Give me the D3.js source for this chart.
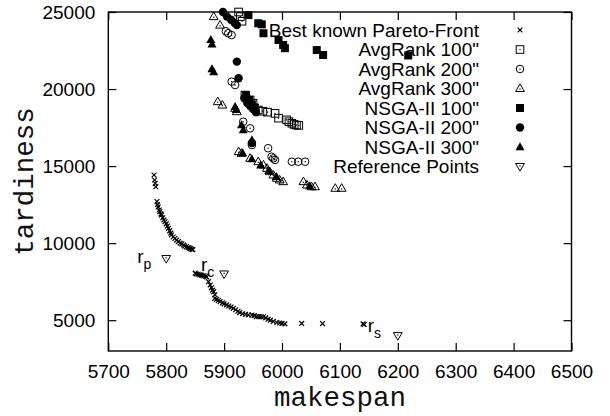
<!DOCTYPE html>
<html>
<head>
<meta charset="utf-8">
<script src="https://cdn.jsdelivr.net/npm/d3@7"></script>
<style>
  html, body { margin: 0; padding: 0; background: #fff; }
  svg { display: block; }
</style>
</head>
<body>
<svg id="chart" width="610" height="416"></svg>
<script>
// ---------------- DATA ----------------
const xTicks = [5700, 5800, 5900, 6000, 6100, 6200, 6300, 6400, 6500];
const yTicks = [5000, 10000, 15000, 20000, 25000];
const xLabel = "makespan";
const yLabel = "tardiness";

const seriesNames = [
  "Best known Pareto-Front",
  "AvgRank 100\"",
  "AvgRank 200\"",
  "AvgRank 300\"",
  "NSGA-II 100\"",
  "NSGA-II 200\"",
  "NSGA-II 300\"",
  "Reference Points"
];
const seriesMarkers = ["cross", "square", "circle", "triangle", "squareFilled", "circleFilled", "triangleFilled", "triangleDown"];

const paretoFront = [
  [5779,14420],[5780,14100],[5781,13880],[5782,13660],[5784,12700],[5785,12500],[5786,12350],[5788,12150],
  [5789,12040],[5791,11900],[5792,11820],[5794,11650],[5796,11500],[5798,11390],[5800,11250],[5802,11100],
  [5804,10960],[5806,10800],[5808,10650],[5809,10530],[5812,10400],[5815,10300],[5818,10200],[5821,10100],
  [5824,10000],[5827,9950],[5830,9880],[5832,9810],[5835,9760],[5838,9720],[5840,9680],[5842,9640],
  [5844,9600],[5846,9580],
  [5850,8050],[5852,8000],[5855,7980],[5858,7950],[5860,7930],[5862,7900],[5865,7880],[5868,7850],
  [5870,7800],[5873,7500],[5876,7280],[5878,7100],[5880,6950],[5882,6850],[5884,6650],[5884,6420],
  [5887,6350],[5890,6280],[5893,6200],[5897,6120],[5900,6060],[5904,5990],[5908,5920],[5912,5850],
  [5916,5770],[5920,5680],[5924,5580],[5927,5490],[5932,5420],[5937,5380],[5942,5340],[5948,5330],
  [5952,5300],[5956,5230],[5960,5230],[5964,5220],[5968,5220],[5972,5150],[5976,5060],[5980,5000],
  [5985,4920],[5991,4850],[5996,4820],[6000,4790],[6005,4760],[6034,4790],[6070,4780],[6140,4760],[6142,4720]
];

const avgRank100 = [
  [5925,25000],[5928,24700],[5931,24400],[5936,19610],[5945,19290],[5950,19080],[5959,18640],[5967,18560],
  [5975,18500],[5988,18420],[5994,18110],[6008,18000],[6012,17880],[6017,17780],[6021,17700],[6025,17660],[6029,17640]
];
const avgRank200 = [
  [5903,23750],[5907,23620],[5913,23500],[5913,20480],[5919,20260],[5933,17880],[5945,17450],[5948,16370],
  [5976,16160],[5982,15610],[5985,15500],[5988,15400],[6017,15285],[6028,15285],[6040,15285]
];
const avgRank300 = [
  [5882,24700],[5893,24150],[5889,19180],[5897,18960],[5919,18750],[5922,18530],[5925,15935],[5930,15830],
  [5945,15505],[5959,15285],[5968,15070],[5974,14855],[5979,14640],[5985,14420],[5991,14210],[5996,14100],
  [6002,13990],[6037,13990],[6043,13770],[6051,13660],[6057,13660],[6092,13560],[6103,13560]
];
const nsga100 = [
  [5942,24800],[5959,24270],[5965,24200],[5968,23620],[5994,23180],[6002,22860],[6005,22650],[6060,22530],
  [6071,22210],[6218,22180],[5938,19600],[5943,19300],[5948,19000],[5953,18800]
];
const nsga200 = [
  [5898,25000],[5905,24700],[5912,24500],[5918,24300],[5922,24150],[5922,21780],[5925,20700],[5935,19400],
  [5940,19100],[5945,18900],[5950,18700],[5955,18500],[5948,16500]
];
const nsga300 = [
  [5877,23200],[5879,22900],[5879,21300],[5882,21100],[5919,18850],[5921,18650],[5930,17670],[5933,17340],
  [5948,16690],[5932,15850],[5948,15450],[5963,15050],[5977,14700],[5990,14300],[6048,13700]
];
const referencePoints = [[5800,9000],[5900,8000],[6200,4000]];
const referenceSubscripts = ["p", "c", "s"];
const referenceLabelAnchors = [[5750,8700],[5860,8170],[6148,4230]];

// ---------------- LAYOUT ----------------
(function () {
const W = 610, H = 416;
const mLeft = 108.3, mRight = 571.5, mTop = 12, mBottom = 351;
const svg = d3.select("#chart");
svg.append("rect").attr("width", W).attr("height", H).attr("fill", "#fff");

const x = d3.scaleLinear().domain([5700, 6500]).range([mLeft, mRight]);
const y = d3.scaleLinear().domain([3000, 25000]).range([mBottom, mTop]);

const sansFont = "'Liberation Sans', Arial, Helvetica, sans-serif";
const monoFont = "'Liberation Mono', 'Courier New', Courier, monospace";
const tickLen = 8;

const gx = svg.append("g").attr("transform", `translate(0,${mBottom})`)
  .call(d3.axisBottom(x).tickValues(xTicks).tickFormat(d3.format("d")).tickSize(-tickLen).tickPadding(14));
const gxTop = svg.append("g").attr("transform", `translate(0,${mTop})`)
  .call(d3.axisTop(x).tickValues(xTicks).tickFormat("").tickSize(-tickLen));
const gy = svg.append("g").attr("transform", `translate(${mLeft},0)`)
  .call(d3.axisLeft(y).tickValues(yTicks).tickFormat(d3.format("d")).tickSize(-tickLen).tickPadding(13));
const gyR = svg.append("g").attr("transform", `translate(${mRight},0)`)
  .call(d3.axisRight(y).tickValues(yTicks).tickFormat("").tickSize(-tickLen));

[gx, gxTop, gy, gyR].forEach(g => {
  g.select(".domain").remove();
  g.selectAll(".tick line").attr("stroke", "#000").attr("stroke-width", 1.2);
  g.selectAll(".tick text").attr("fill", "#000").attr("font-family", sansFont).attr("font-size", 19);
});
gx.selectAll(".tick text").attr("dy", "0.71em");
gy.selectAll(".tick text").attr("dy", "0.35em");

svg.append("rect")
  .attr("x", mLeft).attr("y", mTop)
  .attr("width", mRight - mLeft).attr("height", mBottom - mTop)
  .attr("fill", "none").attr("stroke", "#000").attr("stroke-width", 1.4);

svg.append("text")
  .attr("x", (mLeft + mRight) / 2).attr("y", 406)
  .attr("text-anchor", "middle")
  .attr("font-family", monoFont).attr("font-size", 27.5).attr("fill", "#111")
  .text(xLabel);
svg.append("text")
  .attr("transform", `translate(33,${(mTop + mBottom) / 2}) rotate(-90)`)
  .attr("text-anchor", "middle")
  .attr("font-family", monoFont).attr("font-size", 27.5).attr("fill", "#111")
  .text(yLabel);

function drawMarker(g, type, cx, cy) {
  const sw = 1;
  switch (type) {
    case "cross":
      g.append("path").attr("d", `M${cx-2.4},${cy-2.4}L${cx+2.4},${cy+2.4}M${cx-2.4},${cy+2.4}L${cx+2.4},${cy-2.4}`)
        .attr("stroke", "#000").attr("stroke-width", 1.2).attr("fill", "none");
      break;
    case "square":
      g.append("rect").attr("x", cx-3.8).attr("y", cy-3.8).attr("width", 7.6).attr("height", 7.6)
        .attr("fill", "none").attr("stroke", "#000").attr("stroke-width", sw);
      g.append("rect").attr("x", cx-0.6).attr("y", cy-0.6).attr("width", 1.2).attr("height", 1.2).attr("fill", "#000");
      break;
    case "squareFilled":
      g.append("rect").attr("x", cx-4).attr("y", cy-4).attr("width", 8).attr("height", 8).attr("fill", "#000");
      break;
    case "circle":
      g.append("circle").attr("cx", cx).attr("cy", cy).attr("r", 3.8)
        .attr("fill", "none").attr("stroke", "#000").attr("stroke-width", sw);
      g.append("rect").attr("x", cx-0.6).attr("y", cy-0.6).attr("width", 1.2).attr("height", 1.2).attr("fill", "#000");
      break;
    case "circleFilled":
      g.append("circle").attr("cx", cx).attr("cy", cy).attr("r", 4.2).attr("fill", "#000");
      break;
    case "triangle":
      g.append("path").attr("d", `M${cx},${cy-4.6}L${cx+4.4},${cy+3}L${cx-4.4},${cy+3}Z`)
        .attr("fill", "none").attr("stroke", "#000").attr("stroke-width", sw);
      g.append("rect").attr("x", cx-0.6).attr("y", cy).attr("width", 1.2).attr("height", 1.2).attr("fill", "#000");
      break;
    case "triangleFilled":
      g.append("path").attr("d", `M${cx},${cy-4.8}L${cx+4.5},${cy+3.2}L${cx-4.5},${cy+3.2}Z`).attr("fill", "#000");
      break;
    case "triangleDown":
      g.append("path").attr("d", `M${cx},${cy+4.6}L${cx+4.4},${cy-3}L${cx-4.4},${cy-3}Z`)
        .attr("fill", "none").attr("stroke", "#000").attr("stroke-width", sw);
      g.append("rect").attr("x", cx-0.6).attr("y", cy-1.2).attr("width", 1.2).attr("height", 1.2).attr("fill", "#000");
      break;
  }
}

const legend = svg.append("g");
const legendTextX = 479, legendSymX = 520, legendY0 = 30, legendStep = 19.5;
seriesNames.forEach((name, i) => {
  const ly = legendY0 + i * legendStep;
  legend.append("text")
    .attr("x", legendTextX).attr("y", ly).attr("dy", "0.35em")
    .attr("text-anchor", "end")
    .attr("font-family", sansFont).attr("font-size", 19).attr("fill", "#000")
    .text(name);
  drawMarker(legend, seriesMarkers[i], legendSymX, ly);
});

const allSeries = [paretoFront, avgRank100, avgRank200, avgRank300, nsga100, nsga200, nsga300, referencePoints];
const plotG = svg.append("g");
allSeries.forEach((data, i) => {
  const g = plotG.append("g");
  data.forEach(d => drawMarker(g, seriesMarkers[i], x(d[0]), y(d[1])));
});

referenceLabelAnchors.forEach((a, i) => {
  const t = svg.append("text")
    .attr("x", x(a[0])).attr("y", y(a[1]))
    .attr("font-family", sansFont).attr("font-size", 19).attr("fill", "#000");
  t.append("tspan").text("r");
  t.append("tspan").attr("font-size", 14).attr("dy", 6).text(referenceSubscripts[i]);
});
})();
</script>
</body>
</html>
